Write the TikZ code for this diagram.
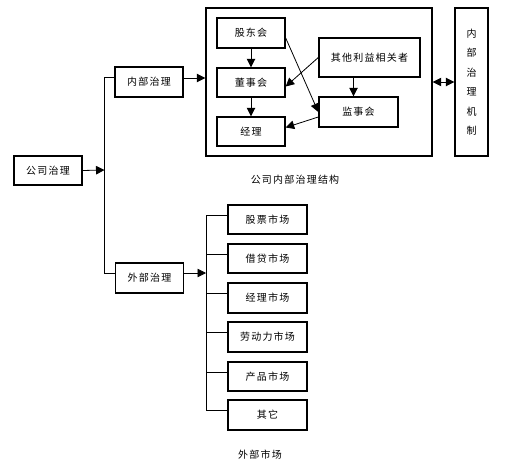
\documentclass[tikz,border=0pt]{standalone}
\usepackage{fontspec}
\setmainfont[LetterSpace=12]{Noto Sans CJK SC}
\usepackage{tikz}
\tikzstyle{box}=[draw, line width=1.4pt, inner sep=0pt, minimum width=68pt, minimum height=29pt]
\newcommand{\bloc}{\node[box]}
\usetikzlibrary{arrows.meta,calc}

\begin{document}
\begin{tikzpicture}[x=1pt, y=-1pt, font=\fontsize{10}{12}\selectfont,
		>={Triangle[length=8.5pt,width=8.5pt]}]
			\tikzstyle{fleche}=[->, line width=0.8pt]
			\tikzstyle{trait}=[line width=0.8pt]
			\tikzstyle{marche}=[minimum width=79pt]
			\useasboundingbox (0,0) rectangle (510,460);
			% Niveau gauche
			\bloc (gs) at (48,170.5) {公司治理};
			\bloc (nb) at (149,82) [minimum height=30pt] {内部治理};
			\bloc (wb) at (149.5,278) [minimum height=30pt] {外部治理};
			\coordinate (split) at (104.5,170);
			% Structure interne
			\node[draw, line width=1.4pt, minimum width=226pt, minimum height=148pt] (jg) at (319,82) {};
			\bloc (gd) at (251,33) [minimum height=30pt] {股东会};
			\bloc (ds) at (251,82.5) {董事会};
			\bloc (jl) at (251,131.5) {经理};
			\bloc (qt) at (369.5,57.5) [minimum width=101pt, minimum height=39pt] {其他利益相关者};
			\bloc (js) at (358.5,112) [minimum width=79pt, minimum height=30pt] {监事会};
			\node[draw, line width=1.4pt, minimum width=33pt, minimum height=148pt, align=center,
				font=\fontsize{10}{19.5}\selectfont] (jz) at (471.5,82) {内\\部\\治\\理\\机\\制};
			\node (cap1) at (295,180) {公司内部治理结构};
			% Marches externes
			\bloc[marche] (m1) at (267.5,219.5) {股票市场};
			\bloc[marche] (m2) at (267.5,258.5) {借贷市场};
			\bloc[marche] (m3) at (267.5,298) [minimum height=30pt] {经理市场};
			\bloc[marche] (m4) at (267.5,337) [minimum height=30pt] {劳动力市场};
			\bloc[marche] (m5) at (267.5,376.5) {产品市场};
			\bloc[marche] (m6) at (267.5,415) [minimum height=30pt] {其它};
			\coordinate (mk) at (206,273);
			\node (cap2) at (260,455) {外部市场};

			% Liaisons
			\draw[fleche] (gs.east) -- (split);
			\draw[trait] ([yshift=5pt]nb.west) -| (split) |- ([yshift=5pt]wb.west);
			\draw[fleche] ([yshift=4pt]nb.east) -- ([yshift=4pt]nb.east -| jg.west);
			\draw[<->, line width=0.8pt] (jg.east) -- (jz.west);
			\draw[fleche] (gd) -- (ds);
			\draw[fleche] (ds) -- (jl);
			\draw[fleche] ([yshift=-5pt]gd.east) -- (js.west);
			\draw[fleche] (qt.west) -- ([yshift=-4pt]ds.east);
			\draw[fleche] ([xshift=-5pt]qt.south -| js.north) -- ([xshift=-5pt]js.north);
			\draw[fleche] ([yshift=-5pt]js.west) -- ([yshift=4pt]jl.east);
			\draw[fleche] ([yshift=5pt]wb.east) -- (mk);
			\foreach \i in {1,...,6}
				\draw[trait] (mk) |- ([yshift=4.5pt]m\i.west);
		\end{tikzpicture}
\end{document}
